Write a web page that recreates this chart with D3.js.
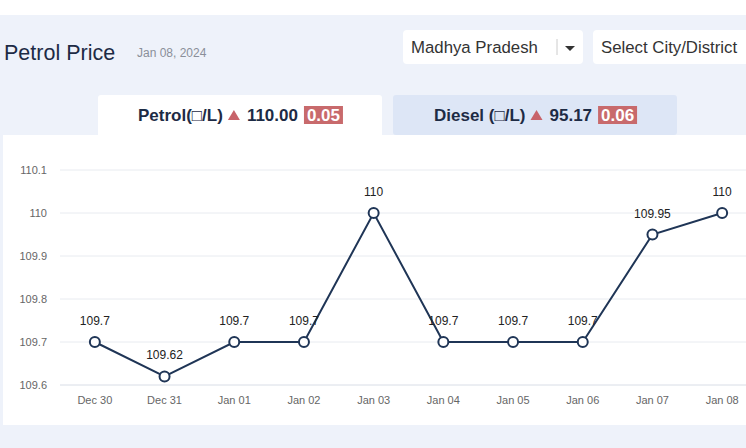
<!DOCTYPE html>
<html>
<head>
<meta charset="utf-8">
<script src="https://cdn.jsdelivr.net/npm/d3@7"></script>
<style>
  body { margin: 0; background: #fff; font-family: "Liberation Sans", Arial, sans-serif; }
</style>
</head>
<body>
<div id="chart"></div>
<script>
const dates = ["Dec 30", "Dec 31", "Jan 01", "Jan 02", "Jan 03", "Jan 04", "Jan 05", "Jan 06", "Jan 07", "Jan 08"];
const prices = [109.7, 109.62, 109.7, 109.7, 110, 109.7, 109.7, 109.7, 109.95, 110];
const yTicks = [109.6, 109.7, 109.8, 109.9, 110, 110.1];

const width = 746, height = 448;
const navy = "#1f3556";

const svg = d3.select("#chart")
    .append("svg")
    .attr("width", width)
    .attr("height", height);

// page background
svg.append("rect").attr("x", 0).attr("y", 0).attr("width", width).attr("height", height).attr("fill", "#fff");
svg.append("rect").attr("x", 0).attr("y", 15).attr("width", width).attr("height", height - 15).attr("fill", "#eef2fa");

// header
svg.append("text")
    .attr("x", 4).attr("y", 60)
    .style("font-size", "21.5px")
    .attr("fill", "#1d2b45")
    .text("Petrol Price");

svg.append("text")
    .attr("x", 137).attr("y", 57)
    .style("font-size", "12px")
    .attr("fill", "#8a8f99")
    .text("Jan 08, 2024");

// dropdowns
svg.append("rect").attr("x", 403).attr("y", 30).attr("width", 180).attr("height", 34).attr("rx", 4).attr("fill", "#fff");
svg.append("text").attr("x", 411).attr("y", 53).style("font-size", "16.8px").attr("fill", "#333").text("Madhya Pradesh");
svg.append("line").attr("x1", 557).attr("x2", 557).attr("y1", 39).attr("y2", 55).attr("stroke", "#ccc");
svg.append("path").attr("d", "M565,46 L575,46 L570,51 Z").attr("fill", "#333");

svg.append("rect").attr("x", 593).attr("y", 30).attr("width", 170).attr("height", 34).attr("rx", 4).attr("fill", "#fff");
svg.append("text").attr("x", 601).attr("y", 53).style("font-size", "16.8px").attr("fill", "#333").text("Select City/District");

// tabs
svg.append("rect").attr("x", 98).attr("y", 95).attr("width", 284).attr("height", 45).attr("rx", 3).attr("fill", "#fff");
svg.append("rect").attr("x", 393).attr("y", 95).attr("width", 284).attr("height", 40).attr("rx", 3).attr("fill", "#dde6f6");

function tab(x, label, value, change) {
    const g = svg.append("g").style("font-size", "17px").style("font-weight", "bold");
    const t1 = g.append("text").attr("x", x).attr("y", 121).attr("fill", "#1d2b45").text(label);
    const w = t1.node().getComputedTextLength();
    const tx = x + w + 5;
    g.append("path").attr("d", `M${tx},120 L${tx + 12},120 L${tx + 6},110 Z`).attr("fill", "#c8636a");
    const t2 = g.append("text").attr("x", tx + 19).attr("y", 121).attr("fill", "#1d2b45").text(value);
    const bx = tx + 19 + t2.node().getComputedTextLength() + 6;
    g.append("rect").attr("x", bx).attr("y", 106).attr("width", 39).attr("height", 18).attr("fill", "#c86a6c");
    g.append("text").attr("x", bx + 19.5).attr("y", 121).attr("text-anchor", "middle").attr("fill", "#fff").text(change);
}
tab(138, "Petrol(\u25A1/L)", "110.00", "0.05");
tab(434, "Diesel (\u25A1/L)", "95.17", "0.06");

// chart panel
svg.append("rect").attr("x", 3).attr("y", 135).attr("width", width - 3).attr("height", 290).attr("fill", "#fff");

const x = d3.scaleBand().domain(dates).range([60, 757]);
const y = d3.scaleLinear().domain([109.6, 110.1]).range([385, 170]);

const grid = svg.append("g");
grid.selectAll("line")
    .data(yTicks)
    .enter()
    .append("line")
    .attr("x1", 60).attr("x2", width)
    .attr("y1", d => y(d)).attr("y2", d => y(d))
    .attr("stroke", d => d === 109.6 ? "#d8dde6" : "#e8ebf0")
    .attr("stroke-width", 1);

svg.append("g")
    .selectAll("text")
    .data(yTicks)
    .enter()
    .append("text")
    .attr("x", 47)
    .attr("y", d => y(d))
    .attr("dy", "0.35em")
    .attr("text-anchor", "end")
    .style("font-size", "11px")
    .attr("fill", "#666")
    .text(d => d3.format("")(d));

svg.append("g")
    .selectAll("text")
    .data(dates)
    .enter()
    .append("text")
    .attr("x", d => x(d) + x.bandwidth() / 2)
    .attr("y", 404)
    .attr("text-anchor", "middle")
    .style("font-size", "11px")
    .attr("fill", "#666")
    .text(d => d);

const line = d3.line()
    .x((d, i) => x(dates[i]) + x.bandwidth() / 2)
    .y(d => y(d));

svg.append("path")
    .datum(prices)
    .attr("d", line)
    .attr("fill", "none")
    .attr("stroke", navy)
    .attr("stroke-width", 2);

svg.append("g")
    .selectAll("circle")
    .data(prices)
    .enter()
    .append("circle")
    .attr("cx", (d, i) => x(dates[i]) + x.bandwidth() / 2)
    .attr("cy", d => y(d))
    .attr("r", 5)
    .attr("fill", "#fff")
    .attr("stroke", navy)
    .attr("stroke-width", 2);

svg.append("g")
    .selectAll("text")
    .data(prices)
    .enter()
    .append("text")
    .attr("x", (d, i) => x(dates[i]) + x.bandwidth() / 2)
    .attr("y", d => y(d) - 17)
    .attr("text-anchor", "middle")
    .style("font-size", "12px")
    .attr("fill", "#222")
    .text(d => d);
</script>
</body>
</html>
